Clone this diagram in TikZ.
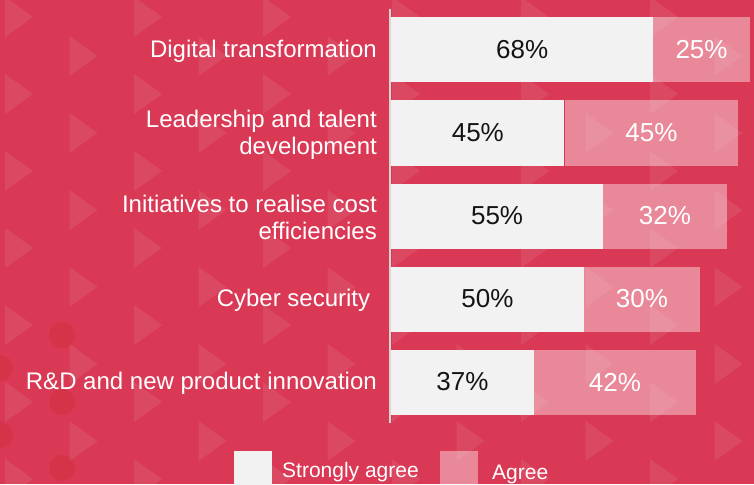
\documentclass[tikz,border=0pt]{standalone}
\usepackage{fontspec}
\setmainfont{Liberation Sans}
\usetikzlibrary{positioning}
\definecolor{bgred}{RGB}{217,57,85}
\definecolor{barwhite}{RGB}{242,242,242}
\definecolor{dotred}{RGB}{213,51,72}
\definecolor{axisgray}{RGB}{215,215,215}
\definecolor{numblack}{RGB}{20,20,20}
\tikzset{
  strongbox/.style = {fill=barwhite, inner sep=0pt, minimum height=65pt, anchor=west,
    text=numblack, font=\fontsize{26}{30}\selectfont},
  agreebox/.style = {fill=white, fill opacity=0.4, text opacity=1, inner sep=0pt,
    minimum height=65pt, anchor=west, text=white, font=\fontsize{26}{30}\selectfont},
  rowlabel/.style = {anchor=east, align=right, inner sep=0pt, text=white,
    font=\fontsize{24}{27}\selectfont},
  keybox/.style = {inner sep=0pt, minimum size=38pt, anchor=north west},
  keytext/.style = {anchor=base west, inner sep=0pt, text=white,
    font=\fontsize{21}{25}\selectfont},
  deco/.style = {fill=white, fill opacity=0.08}
}
\begin{document}
\begin{tikzpicture}[x=1pt, y=-1pt]
\useasboundingbox (0,0) rectangle (754,484);
\clip (0,0) rectangle (754,484);
\fill[bgred] (0,0) rectangle (754,484);
% background pattern
\foreach \cx/\cy in {62/335, 0/368, 62/402, 0/435, 62/468}
  \fill[dotred] (\cx,\cy) circle (13pt);
\foreach \k in {0,...,11} {
  \pgfmathsetmacro{\tx}{5+64.5*\k}
  \pgfmathsetmacro{\ty}{mod(\k,2)*39+17}
  \foreach \j in {-1,...,6}
    \fill[deco] (\tx,{\ty+77*\j-20}) -- ({\tx+28},{\ty+77*\j}) -- (\tx,{\ty+77*\j+20}) -- cycle;
}
% axis
\coordinate (top) at (390,9);
\coordinate (bottom) at (390,423);
\draw[axisgray, line width=1.5pt] (top) -- (bottom);
% bars
\foreach \i/\s/\a/\y/\lab in {
  1/68/25/50/{Digital transformation},
  2/45/45/133/{Leadership and talent\\development},
  3/55/32/216/{Initiatives to realise cost\\efficiencies},
  4/50/30/299/{Cyber security\ },
  5/37/42/382/{R\&D and new product innovation}} {
  \node[rowlabel] (l\i) at (377,{\y+1.5}) {\lab};
  \node[strongbox, minimum width={3.85pt*\s}] (s\i) at (391,\y) {\s\%};
  \node[agreebox, minimum width={3.85pt*\a}] (a\i) at (s\i.east) {\a\%};
}
% legend
\node[keybox, fill=barwhite] (ks) at (234,451) {};
\node[keytext] (kst) at (282,477) {Strongly agree};
\node[keybox, fill=white, fill opacity=0.4] (ka) at (440,451) {};
\node[keytext] (kat) at (492,479) {Agree};
\end{tikzpicture}
\end{document}
